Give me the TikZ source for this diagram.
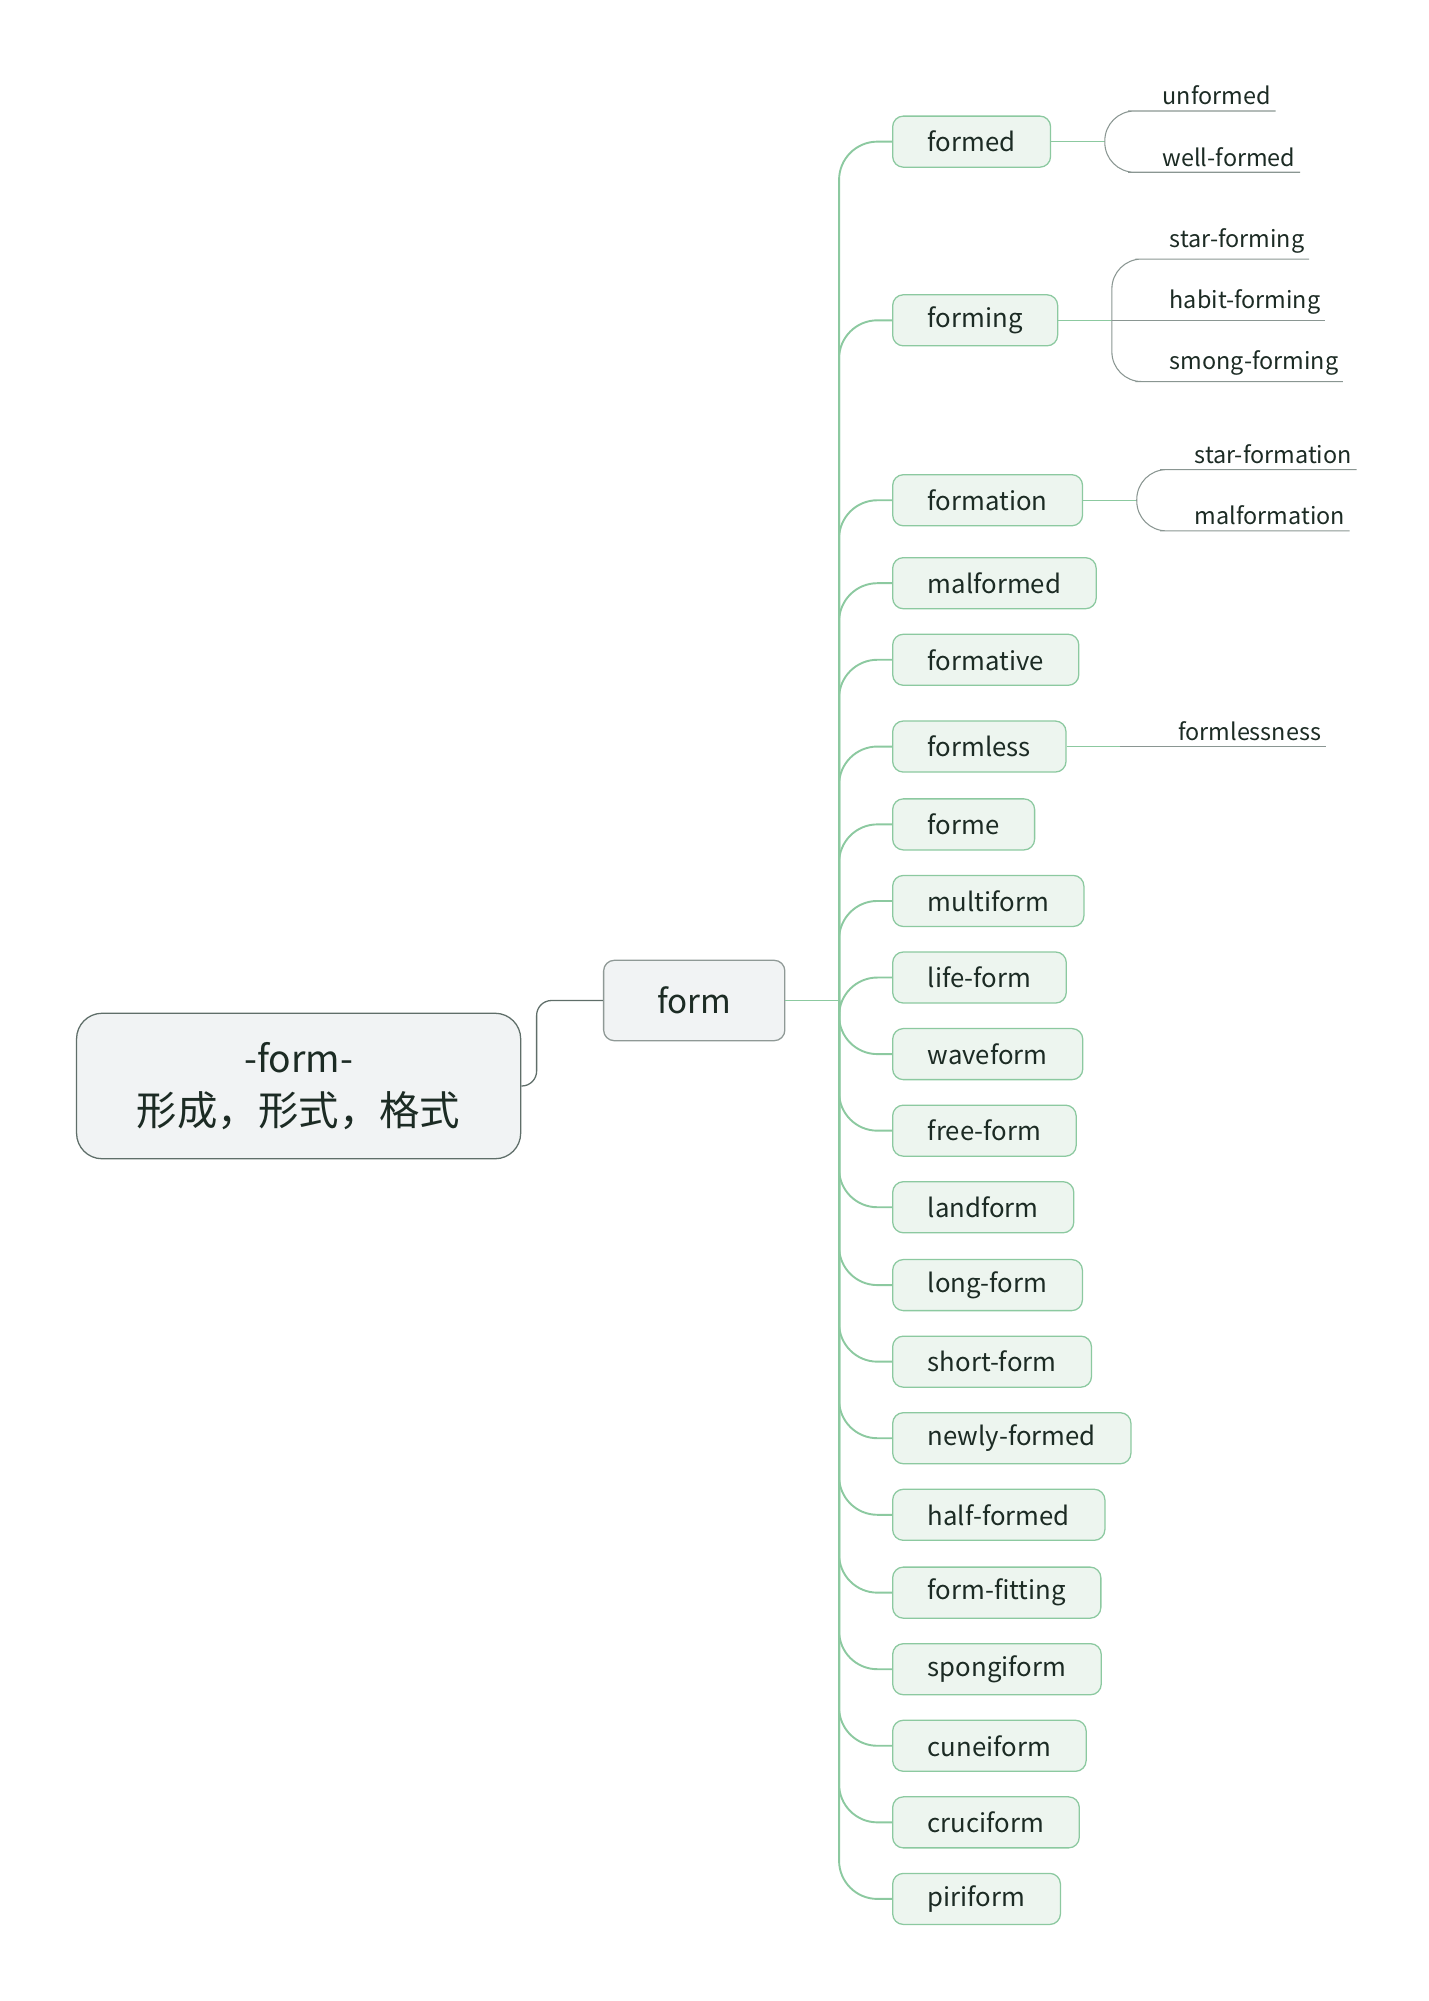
\documentclass[tikz,border=0pt]{standalone}
\usepackage{fontspec}
\setmainfont{Noto Sans CJK SC}
\usepackage{xcolor}
\usepackage{tikz}
\definecolor{ink}{HTML}{1C2B24}
\definecolor{topfill}{HTML}{F1F3F4}
\definecolor{topline}{HTML}{5F6E69}
\definecolor{subfill}{HTML}{EDF5EF}
\definecolor{subline}{HTML}{8CC9A0}
\definecolor{leafline}{HTML}{8A9692}

\begin{document}
\begin{tikzpicture}[x=0.6pt,y=-0.6pt,
    topic/.style={draw=topline,fill=topfill,text=ink,align=center,line width=0.6pt},
    sub/.style={draw=subline,fill=subfill,text=ink,rounded corners=5pt,anchor=west,
        minimum height=24pt,inner xsep=16.5pt,line width=0.6pt,
        font=\fontsize{12.1}{15}\selectfont},
    leaf/.style={anchor=south west,text=ink,inner xsep=2pt,inner ysep=2.5pt,
        font=\fontsize{11}{13}\selectfont},
    trunk/.style={draw=subline,line width=0.9pt,rounded corners=18pt},
    stub/.style={draw=subline,line width=0.7pt},
    brace/.style={draw=leafline,line width=0.5pt,rounded corners=14pt}]
    \useasboundingbox (0,0) rectangle (1119,1568);
    \node[topic,rounded corners=12pt,minimum width=208.8pt,minimum height=68.4pt,
        font=\fontsize{19}{25}\selectfont] (root) at (234,851)
        {{\fontsize{17.5}{25}\selectfont -form-}\\形成，形式，格式};
    \node[topic,draw=topline!70,rounded corners=5pt,minimum width=85.2pt,minimum height=37.8pt,
        font=\fontsize{15.6}{18}\selectfont] (form) at (544,784) {form};
    \draw[topline,line width=0.6pt,rounded corners=7pt] (root.east) -- ++(12,0) |- (form.west);
    \coordinate (hub) at ([xshift=25.2pt]form.east);
    \draw[stub] (form.east) -- (hub);

    \node[sub] (formed) at (699,111) {formed};
    \node[sub] (forming) at (699,251) {forming};
    \node[sub] (formation) at (699,392) {formation};
    \node[sub] (malformed) at (699,457) {malformed};
    \node[sub] (formative) at (699,517) {formative};
    \node[sub] (formless) at (699,585) {formless};
    \node[sub] (forme) at (699,646) {forme};
    \node[sub] (multiform) at (699,706) {multiform};
    \node[sub] (lifeform) at (699,766) {life-form};
    \node[sub] (waveform) at (699,826) {waveform};
    \node[sub] (freeform) at (699,886) {free-form};
    \node[sub] (landform) at (699,946) {landform};
    \node[sub] (longform) at (699,1007) {long-form};
    \node[sub] (shortform) at (699,1067) {short-form};
    \node[sub] (newlyformed) at (699,1127) {newly-formed};
    \node[sub] (halfformed) at (699,1187) {half-formed};
    \node[sub] (formfitting) at (699,1248) {form-fitting};
    \node[sub] (spongiform) at (699,1308) {spongiform};
    \node[sub] (cuneiform) at (699,1368) {cuneiform};
    \node[sub] (cruciform) at (699,1428) {cruciform};
    \node[sub] (piriform) at (699,1488) {piriform};

    \draw[trunk] (hub) |- (formed.west);
    \draw[trunk] (hub) |- (forming.west);
    \draw[trunk] (hub) |- (formation.west);
    \draw[trunk] (hub) |- (malformed.west);
    \draw[trunk] (hub) |- (formative.west);
    \draw[trunk] (hub) |- (formless.west);
    \draw[trunk] (hub) |- (forme.west);
    \draw[trunk] (hub) |- (multiform.west);
    \draw[trunk] (hub) |- (lifeform.west);
    \draw[trunk] (hub) |- (waveform.west);
    \draw[trunk] (hub) |- (freeform.west);
    \draw[trunk] (hub) |- (landform.west);
    \draw[trunk] (hub) |- (longform.west);
    \draw[trunk] (hub) |- (shortform.west);
    \draw[trunk] (hub) |- (newlyformed.west);
    \draw[trunk] (hub) |- (halfformed.west);
    \draw[trunk] (hub) |- (formfitting.west);
    \draw[trunk] (hub) |- (spongiform.west);
    \draw[trunk] (hub) |- (cuneiform.west);
    \draw[trunk] (hub) |- (cruciform.west);
    \draw[trunk] (hub) |- (piriform.west);

    \coordinate (formedsplit) at ([xshift=25.2pt]formed.east);
    \draw[stub] (formed.east) -- (formedsplit);
    \node[leaf] (unformed) at ([xshift=25pt,yshift=14.4pt]formedsplit) {unformed};
    \node[leaf] (wellformed) at ([xshift=25pt,yshift=-14.4pt]formedsplit) {well-formed};
    \draw[brace] (formedsplit) |- (unformed.south west) -- (unformed.south east);
    \draw[brace] (formedsplit) |- (wellformed.south west) -- (wellformed.south east);

    \coordinate (formingsplit) at ([xshift=25.2pt]forming.east);
    \draw[stub] (forming.east) -- (formingsplit);
    \node[leaf] (starforming) at ([xshift=25pt,yshift=28.8pt]formingsplit) {star-forming};
    \node[leaf] (habitforming) at ([xshift=25pt]formingsplit) {habit-forming};
    \node[leaf] (smongforming) at ([xshift=25pt,yshift=-28.8pt]formingsplit) {smong-forming};
    \draw[brace] (formingsplit) |- (starforming.south west) -- (starforming.south east);
    \draw[brace] (formingsplit) -- (habitforming.south west) -- (habitforming.south east);
    \draw[brace] (formingsplit) |- (smongforming.south west) -- (smongforming.south east);

    \coordinate (formationsplit) at ([xshift=25.2pt]formation.east);
    \draw[stub] (formation.east) -- (formationsplit);
    \node[leaf] (starformation) at ([xshift=25pt,yshift=14.4pt]formationsplit) {star-formation};
    \node[leaf] (malformation) at ([xshift=25pt,yshift=-14.4pt]formationsplit) {malformation};
    \draw[brace] (formationsplit) |- (starformation.south west) -- (starformation.south east);
    \draw[brace] (formationsplit) |- (malformation.south west) -- (malformation.south east);

    \coordinate (formlesssplit) at ([xshift=25.2pt]formless.east);
    \draw[stub] (formless.east) -- (formlesssplit);
    \node[leaf] (formlessness) at ([xshift=25pt]formlesssplit) {formlessness};
    \draw[brace] (formlesssplit) -- (formlessness.south west) -- (formlessness.south east);
\end{tikzpicture}
\end{document}
